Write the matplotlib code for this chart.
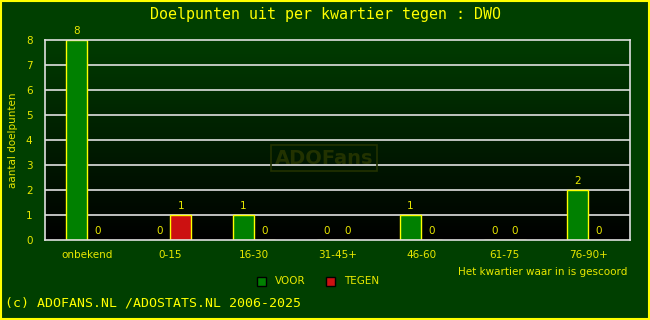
import numpy as np
import matplotlib
matplotlib.use('Agg')
import matplotlib.pyplot as plt
from matplotlib.patches import Rectangle

categories = ['onbekend', '0-15', '16-30', '31-45+', '46-60', '61-75', '76-90+']
voor = [8, 0, 1, 0, 1, 0, 2]
tegen = [0, 1, 0, 0, 0, 0, 0]
y_ticks = [0, 1, 2, 3, 4, 5, 6, 7, 8]

bg = '#003f00'
yel = '#ffff00'
lbl = '#e8e800'

fig = plt.figure(figsize=(6.5, 3.2), dpi=100, facecolor=bg)
ax = fig.add_axes([45/650, 80/320, 585/650, 200/320])
ax.set_facecolor('black')

# gradient in plot area (dark green top -> black bottom)
grad = np.linspace(1, 0, 256).reshape(-1, 1)
cmap = matplotlib.colors.LinearSegmentedColormap.from_list('g', ['#000000', '#003c00'])
ax.imshow(grad, cmap=cmap, aspect='auto', extent=[0, len(categories), 0, 8],
          zorder=0, origin='upper')

x = np.arange(len(categories))
w = 0.25
for yv in y_ticks[1:-1]:
    ax.axhline(yv, color='#e0e0e0', lw=1.2, zorder=1)

ax.bar(x + 0.25, voor, w, align='edge', color='#008000', edgecolor=yel, lw=1, zorder=2)
ax.bar(x + 0.5, tegen, w, align='edge', color='#cc1111', edgecolor=yel, lw=1, zorder=2)

for i in range(len(categories)):
    ax.text(x[i] + 0.375, voor[i] + 0.15, str(voor[i]), color=lbl, ha='center', va='bottom', fontsize=7.5)
    ax.text(x[i] + 0.625, tegen[i] + 0.15, str(tegen[i]), color=lbl, ha='center', va='bottom', fontsize=7.5)

ax.set_xlim(0, len(categories))
ax.set_ylim(0, 8)
ax.set_yticks(y_ticks)
ax.set_yticklabels([str(v) for v in y_ticks], color=lbl, fontsize=7.5)
ax.set_xticks(x + 0.5)
ax.set_xticklabels(categories, color=lbl, fontsize=7.5)
ax.tick_params(length=0, pad=9)
ax.tick_params(axis='x', pad=7)
for s in ax.spines.values():
    s.set_color('#e0e0e0')
    s.set_linewidth(1.2)
ax.set_ylabel('aantal doelpunten', color=lbl, fontsize=7.5, labelpad=6)

# watermark
ax.text(0.477, 0.41, 'ADOFans', transform=ax.transAxes, ha='center', va='center',
        fontsize=14, fontweight='bold', color='#223200', zorder=1.5,
        bbox=dict(boxstyle='square,pad=0.2', fc='none', ec='#223200', lw=1.2))

fig.text(0.5, 1 - 14/320, 'Doelpunten uit per kwartier tegen : DWO', color=yel,
         ha='center', va='center', fontsize=10.8, family='DejaVu Sans Mono')
fig.text(458/650, 1 - 272/320, 'Het kwartier waar in is gescoord', color=lbl,
         ha='left', va='center', fontsize=7.5)

# legend
fig.patches.append(Rectangle((257/650, 1 - 286/320), 9/650, 9/320, transform=fig.transFigure,
                             fc='#008000', ec='black', lw=1))
fig.text(275/650, 1 - 281/320, 'VOOR', color=lbl, ha='left', va='center', fontsize=7.5)
fig.patches.append(Rectangle((326/650, 1 - 286/320), 9/650, 9/320, transform=fig.transFigure,
                             fc='#cc1111', ec='black', lw=1))
fig.text(344/650, 1 - 281/320, 'TEGEN', color=lbl, ha='left', va='center', fontsize=7.5)

fig.text(5/650, 1 - 303/320, '(c) ADOFANS.NL /ADOSTATS.NL 2006-2025', color=yel,
         ha='left', va='center', fontsize=9.5, family='DejaVu Sans Mono')

fig.patches.append(Rectangle((0.001, 0.002), 0.997, 0.995, transform=fig.transFigure,
                             fc='none', ec=yel, lw=1.5))

fig.savefig('out.png', dpi=100, facecolor=bg)
